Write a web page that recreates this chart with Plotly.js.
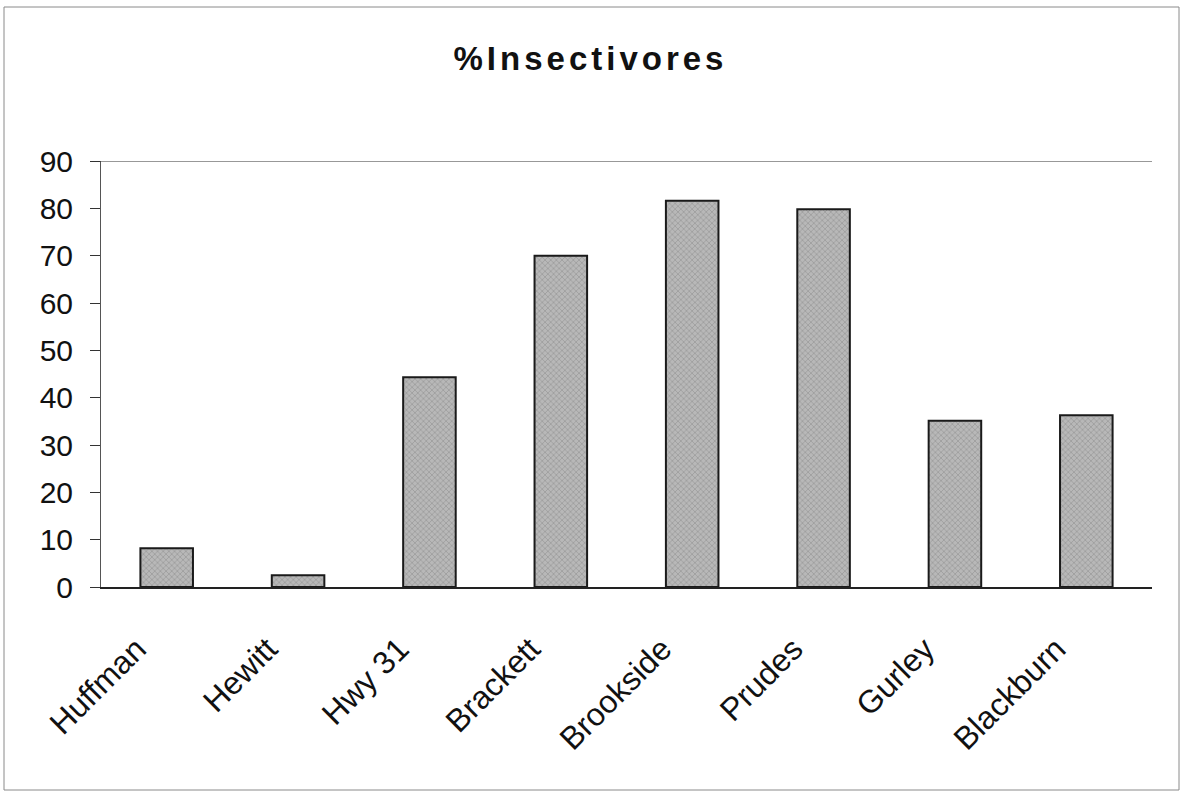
<!DOCTYPE html>
<html>
<head>
<meta charset="utf-8">
<script src="https://cdn.plot.ly/plotly-3.0.1.min.js"></script>
<style>
html,body{margin:0;padding:0;background:#fff;}
#chart{width:1181px;height:793px;}
</style>
</head>
<body>
<div id="chart"></div>
<script>
const sites = ["Huffman", "Hewitt", "Hwy 31", "Brackett", "Brookside", "Prudes", "Gurley", "Blackburn"];
const pctInsectivores = [8.2, 2.5, 44.3, 70.0, 81.6, 79.8, 35.1, 36.3];
const yTicks = [0, 10, 20, 30, 40, 50, 60, 70, 80, 90];
const chartTitle = "%Insectivores";

const W = 1181, H = 793;
const mL = 101, mR = 29, mT = 161, mB = 206;
const pw = W - mL - mR, ph = H - mT - mB;
function px(x){ return (x - mL) / pw; }
function py(y){ return (H - mB - y) / ph; }

const trace = {
  type: "bar",
  x: sites,
  y: pctInsectivores,
  marker: {
    color: "#adadad",
    line: {color: "#1a1a1a", width: 2},
    pattern: {shape: "x", bgcolor: "#b8b8b8", fgcolor: "#8e8e8e", size: 4, solidity: 0.25}
  },
  hoverinfo: "x+y"
};

const layout = {
  width: W, height: H,
  margin: {l: mL, r: mR, t: mT, b: mB, pad: 0},
  paper_bgcolor: "#ffffff",
  plot_bgcolor: "#ffffff",
  showlegend: false,
  bargap: 0.6,
  title: {
    text: chartTitle,
    font: {family: "Liberation Sans, Arial, sans-serif", size: 33, color: "#111", weight: "bold"},
    xref: "container", x: 0.5, xanchor: "center",
    yref: "container", y: 1 - 58 / H, yanchor: "middle"
  },
  xaxis: {
    type: "category",
    showline: true, linecolor: "#222", linewidth: 1.5,
    ticks: "", showgrid: false, zeroline: false,
    tickangle: -45,
    ticklabelstandoff: 14,
    tickfont: {family: "Liberation Sans, Arial, sans-serif", size: 32, color: "#111"}
  },
  yaxis: {
    range: [0, 90],
    tickvals: yTicks,
    ticktext: yTicks.map(String),
    showline: true, linecolor: "#555", linewidth: 1,
    ticks: "outside", ticklen: 10, tickcolor: "#333", tickwidth: 1,
    showgrid: false, zeroline: false,
    ticklabelstandoff: 11,
    tickfont: {family: "Liberation Sans, Arial, sans-serif", size: 30, color: "#111"}
  },
  shapes: [
    {type: "line", xref: "paper", yref: "y", x0: px(91), x1: 1, y0: 90, y1: 90,
     line: {color: "#333", width: 1.2}},
    {type: "rect", xref: "paper", yref: "paper", x0: px(4), x1: px(1179), y0: py(790), y1: py(7),
     line: {color: "#8a8a8a", width: 1}, fillcolor: "rgba(0,0,0,0)", layer: "below"}
  ]
};

Plotly.newPlot("chart", [trace], layout, {displayModeBar: false, staticPlot: true}).then(function(){
  const t = document.querySelector(".gtitle");
  if (t) t.style.letterSpacing = "4px";
  const xl = document.querySelector(".xaxislayer-above");
  if (xl) xl.setAttribute("transform", "translate(-30,15)");
});
</script>
</body>
</html>
